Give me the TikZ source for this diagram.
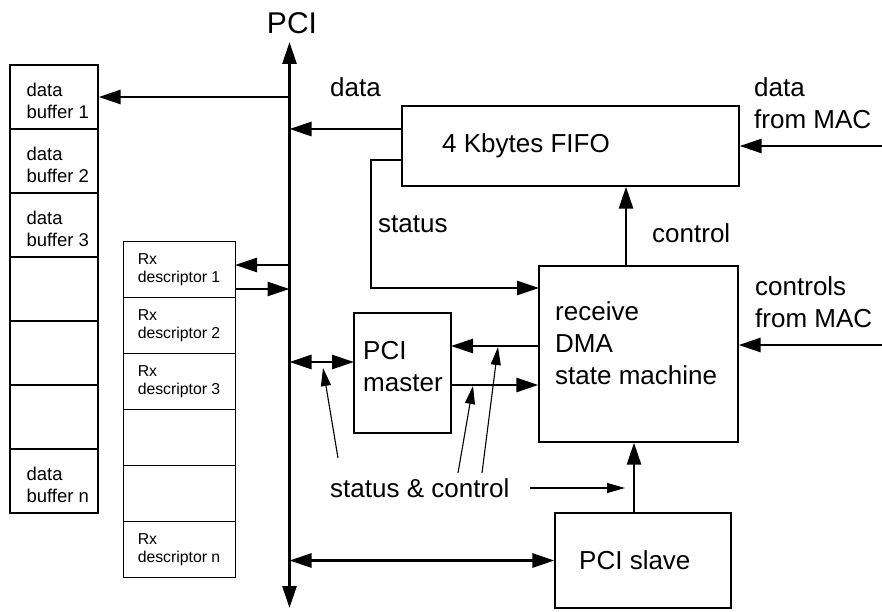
\documentclass[tikz,border=0pt]{standalone}
\usepackage{fontspec}
\setmainfont{Liberation Sans}
\usetikzlibrary{arrows.meta}

\begin{document}
\begin{tikzpicture}[x=1pt,y=-1pt,
  blk/.style={rectangle,draw,line width=1.3pt,inner sep=0pt},
  cel/.style={blk,minimum width=88pt,minimum height=64pt},
  dsc/.style={blk,minimum width=112pt,minimum height=56pt},
  lbl/.style={inner sep=0pt,align=left,font=\fontsize{26}{32}\selectfont},
  btxt/.style={inner sep=0pt,anchor=west,align=left,font=\fontsize{18.5}{22.3}\selectfont},
  dtxt/.style={inner sep=0pt,anchor=west,align=left,font=\fontsize{15.8}{17.7}\selectfont},
  ln/.style={line width=2.8pt,-{Triangle[length=22pt,width=14pt]}},
  ln2/.style={line width=2.8pt,{Triangle[length=22pt,width=14pt]}-{Triangle[length=22pt,width=14pt]}},
  ptr/.style={line width=1.1pt,-{Triangle[length=18pt,width=10pt]}}]
  \useasboundingbox (0,0) rectangle (882,612);

  % memory side
  \foreach \i in {1,...,7}
    \node[cel] (buf\i) at (54,33+64*\i) {};
  \foreach \i in {1,...,6}
    \node[dsc] (desc\i) at (179.2,213.7+56*\i) {};
  \node[btxt] (buf1t) at ([xshift=17pt,yshift=-4pt]buf1.west) {data\\buffer 1};
  \node[btxt] (buf2t) at ([xshift=17pt,yshift=-4pt]buf2.west) {data\\buffer 2};
  \node[btxt] (buf3t) at ([xshift=17pt,yshift=-4pt]buf3.west) {data\\buffer 3};
  \node[btxt] (buf7t) at ([xshift=17pt,yshift=-4pt]buf7.west) {data\\buffer n};
  \node[dtxt] (desc1t) at ([xshift=15pt]desc1.west) {Rx\\descriptor 1};
  \node[dtxt] (desc2t) at ([xshift=15pt]desc2.west) {Rx\\descriptor 2};
  \node[dtxt] (desc3t) at ([xshift=15pt]desc3.west) {Rx\\descriptor 3};
  \node[dtxt] (desc6t) at ([xshift=15pt]desc6.west) {Rx\\descriptor n};

  % controller blocks
  \node[blk,minimum width=337pt,minimum height=80pt] (fifo) at (570.5,146) {};
  \node[blk,minimum width=199pt,minimum height=176pt] (dma) at (638.5,354) {};
  \node[blk,minimum width=97pt,minimum height=120pt] (master) at (402.5,373) {};
  \node[blk,minimum width=176pt,minimum height=95pt] (slave) at (643,560.5) {};

  \node[lbl,font=\fontsize{30}{36}\selectfont] (pci) at (292,23) {PCI};
  \node[lbl] (datal) at (355.5,87.5) {data};
  \node[lbl,anchor=west] (fifot) at (442,145.5) {4 Kbytes FIFO};
  \node[lbl,anchor=base west] (statl) at (378,232) {status};
  \node[lbl,anchor=base west] (ctll) at (652,242) {control};
  \node[lbl,anchor=west] (macd) at (754,103) {data\\from MAC};
  \node[lbl,anchor=west] (macc) at (755,302) {controls\\from MAC};
  \node[lbl,anchor=west] (dmat) at (555,343) {receive\\DMA\\state machine};
  \node[lbl,anchor=west] (mastert) at (363,366.5) {PCI\\master};
  \node[lbl,anchor=base west] (scl) at (330,497) {status \& control};
  \node[lbl,anchor=base west] (slavet) at (579,569) {PCI slave};

  % ports
  \coordinate (bustop) at (289.5,42);
  \coordinate (busbot) at (289.5,608);
  \coordinate (edge) at (882,0);
  \coordinate (fifod) at (402,129);
  \coordinate (fifos) at (402,160);
  \coordinate (scorner) at (371,160);
  \coordinate (dmas) at (539,288);
  \coordinate (ctl) at (626,266);
  \coordinate (macc2) at (882,345);
  \coordinate (din) at (235,265);
  \coordinate (dout) at (235,289);
  \coordinate (mbus) at (354,362);
  \coordinate (min) at (451,346);
  \coordinate (mout) at (451,385);
  \coordinate (slup) at (634,513);
  \coordinate (p1a) at (338,458);  \coordinate (p1b) at (323,368);
  \coordinate (p2a) at (458,473);  \coordinate (p2b) at (473,386);
  \coordinate (p3a) at (482,473);  \coordinate (p3b) at (498,347);
  \coordinate (p4a) at (530,488);  \coordinate (p4b) at (625,488);

  % PCI bus
  \draw[ln2] (busbot) -- (bustop);

  \draw[ln] (buf1.east -| bustop) -- (buf1.east);
  \draw[ln] (din -| bustop) -- (din);
  \draw[ln] (dout) -- (dout -| bustop);
  \draw[ln] (fifod) -- (fifod -| bustop);
  \draw[ln] (fifos) -- (scorner) |- (dmas);
  \draw[ln] (ctl) -- (ctl |- fifo.south);
  \draw[ln] (fifo.east -| edge) -- (fifo.east);
  \draw[ln] (macc2) -- (macc2 -| dma.east);
  \draw[ln2] (mbus -| bustop) -- (mbus);
  \draw[ln] (min -| dma.west) -- (min);
  \draw[ln] (mout) -- (mout -| dma.west);
  \draw[ln2] (slave.west -| bustop) -- (slave.west);
  \draw[ln] (slup) -- (slup |- dma.south);

  \draw[ptr] (p1a) -- (p1b);
  \draw[ptr] (p2a) -- (p2b);
  \draw[ptr] (p3a) -- (p3b);
  \draw[ptr] (p4a) -- (p4b);
\end{tikzpicture}
\end{document}
